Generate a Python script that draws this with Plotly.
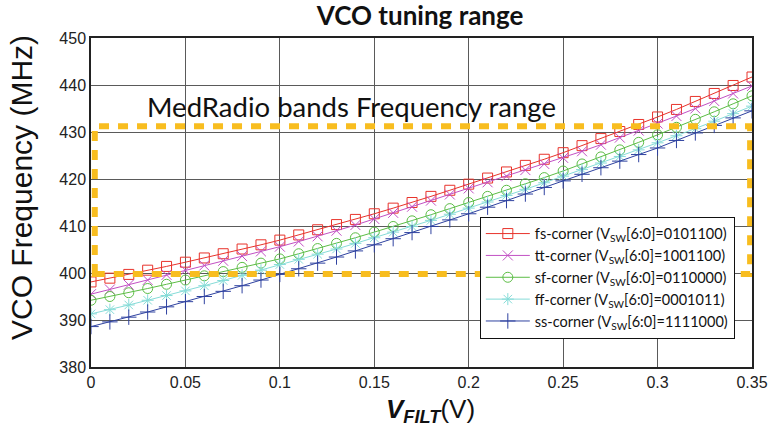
import plotly.graph_objects as go

# Filter voltage sweep (V)
v_filt = [0.00, 0.01, 0.02, 0.03, 0.04, 0.05, 0.06, 0.07, 0.08, 0.09,
          0.10, 0.11, 0.12, 0.13, 0.14, 0.15, 0.16, 0.17, 0.18, 0.19,
          0.20, 0.21, 0.22, 0.23, 0.24, 0.25, 0.26, 0.27, 0.28, 0.29,
          0.30, 0.31, 0.32, 0.33, 0.34, 0.35]

# VCO frequency (MHz) per process corner
fs_corner = [398.1, 398.9, 399.7, 400.6, 401.4, 402.3, 403.2, 404.1, 405.1, 406.0,
             407.0, 408.1, 409.2, 410.3, 411.4, 412.6, 413.8, 415.0, 416.3, 417.6,
             418.9, 420.2, 421.5, 422.9, 424.2, 425.6, 427.1, 428.6, 430.1, 431.6,
             433.2, 434.8, 436.5, 438.2, 439.9, 441.7]
tt_corner = [395.5, 396.5, 397.5, 398.5, 399.6, 400.6, 401.6, 402.6, 403.6, 404.6,
             405.6, 406.7, 407.8, 409.0, 410.2, 411.5, 412.8, 414.1, 415.4, 416.7,
             418.0, 419.3, 420.6, 421.9, 423.2, 424.5, 425.9, 427.3, 428.8, 430.3,
             431.8, 433.4, 435.0, 436.6, 438.2, 439.8]
sf_corner = [394.2, 395.0, 395.8, 396.7, 397.6, 398.5, 399.4, 400.3, 401.2, 402.1,
             403.0, 404.1, 405.2, 406.3, 407.5, 408.7, 409.9, 411.1, 412.4, 413.7,
             415.0, 416.3, 417.6, 419.0, 420.3, 421.7, 423.2, 424.7, 426.2, 427.8,
             429.4, 431.0, 432.7, 434.3, 436.0, 437.7]
ff_corner = [391.3, 392.2, 393.2, 394.2, 395.2, 396.2, 397.3, 398.4, 399.5, 400.6,
             401.8, 402.9, 404.0, 405.1, 406.3, 407.5, 408.7, 409.9, 411.2, 412.5,
             413.8, 415.1, 416.5, 417.8, 419.2, 420.6, 422.0, 423.4, 424.8, 426.2,
             427.7, 429.2, 430.7, 432.3, 433.9, 435.5]
ss_corner = [388.6, 389.6, 390.6, 391.7, 392.8, 393.9, 395.0, 396.1, 397.3, 398.5,
             399.7, 400.9, 402.1, 403.4, 404.7, 406.0, 407.3, 408.6, 409.9, 411.3,
             412.6, 414.0, 415.4, 416.8, 418.2, 419.6, 421.0, 422.4, 423.8, 425.2,
             426.6, 428.2, 429.8, 431.4, 433.0, 434.5]

series_names = [
    "fs-corner (V<sub>SW</sub>[6:0]=0101100)",
    "tt-corner (V<sub>SW</sub>[6:0]=1001100)",
    "sf-corner (V<sub>SW</sub>[6:0]=0110000)",
    "ff-corner (V<sub>SW</sub>[6:0]=0001011)",
    "ss-corner (V<sub>SW</sub>[6:0]=1111000)",
]

# MedRadio band limits (MHz) and the voltage span of the highlight box
band_low, band_high = 399.8, 431.2
band_v_start, band_v_end = 0.002, 0.349

x_ticks = [0, 0.05, 0.1, 0.15, 0.2, 0.25, 0.3, 0.35]
x_tick_text = ["0", "0.05", "0.1", "0.15", "0.2", "0.25", "0.3", "0.35"]
y_ticks = [380, 390, 400, 410, 420, 430, 440, 450]

series_values = [fs_corner, tt_corner, sf_corner, ff_corner, ss_corner]
colors = ["#e8332b", "#c250c4", "#5cbd45", "#86dcd8", "#2f42a0"]
symbols = ["square-open", "x-thin-open", "circle-open", "asterisk-open", "cross-thin-open"]
sizes = [10, 10, 10, 10, 11]

fig = go.Figure()

for name, vals, col, sym, sz in zip(series_names, series_values, colors, symbols, sizes):
    fig.add_trace(go.Scatter(
        x=v_filt, y=vals, name=name, mode="lines+markers",
        line=dict(color=col, width=1),
        marker=dict(symbol=sym, size=sz, color=col, line=dict(color=col, width=1)),
    ))

# Dashed band outline
fig.add_shape(
    type="rect", xref="x", yref="y",
    x0=band_v_start, x1=band_v_end, y0=band_low, y1=band_high,
    line=dict(color="#f8bd1f", width=6, dash="10px,9px"),
    layer="above",
)

fig.add_annotation(
    x=0.0285, y=435.4, xref="x", yref="y", xanchor="left", yanchor="middle",
    text="MedRadio bands Frequency range", showarrow=False,
    font=dict(family="Lato", size=27.5, color="#111111"),
)

# Axis titles
fig.add_annotation(
    x=-0.106, y=0.547, xref="paper", yref="paper", xanchor="center", yanchor="middle",
    text="VCO Frequency (MHz)", textangle=-90, showarrow=False,
    font=dict(family="Liberation Sans", size=30, color="#111111"),
)
fig.add_annotation(
    x=0.513, y=-0.131, xref="paper", yref="paper", xanchor="center", yanchor="middle",
    text="<b><i>V<sub>FILT</sub></i></b>(V)", showarrow=False,
    font=dict(family="Liberation Sans", size=26, color="#111111"),
)

fig.update_layout(
    width=768, height=431,
    margin=dict(l=91, r=16, t=38, b=64, autoexpand=False),
    paper_bgcolor="white", plot_bgcolor="white",
    title=dict(
        text="<b>VCO tuning range</b>", x=0.547, xanchor="center",
        y=0.963, yanchor="middle",
        font=dict(family="Lato", size=26, color="#111111"),
    ),
    legend=dict(
        x=0.974, xanchor="right", y=0.457, yanchor="top",
        bgcolor="white", bordercolor="#111111", borderwidth=1,
        font=dict(family="Lato", size=14.5, color="#111111"),
        itemwidth=44, tracegroupgap=0,
    ),
    showlegend=True,
)

fig.update_xaxes(
    range=[0, 0.35], tickvals=x_ticks, ticktext=x_tick_text,
    showgrid=True, gridcolor="#5a5a5a", gridwidth=1,
    showline=True, linecolor="#222222", linewidth=1.5, mirror=True,
    ticks="", zeroline=False, automargin=False,
    tickfont=dict(family="Liberation Sans", size=16, color="#222222"),
)
fig.update_yaxes(
    range=[380, 450], tickvals=y_ticks,
    showgrid=True, gridcolor="#5a5a5a", gridwidth=1,
    showline=True, linecolor="#222222", linewidth=1.5, mirror=True,
    ticks="", zeroline=False, automargin=False,
    tickfont=dict(family="Liberation Sans", size=16, color="#222222"),
)

fig.write_html("out.html")
